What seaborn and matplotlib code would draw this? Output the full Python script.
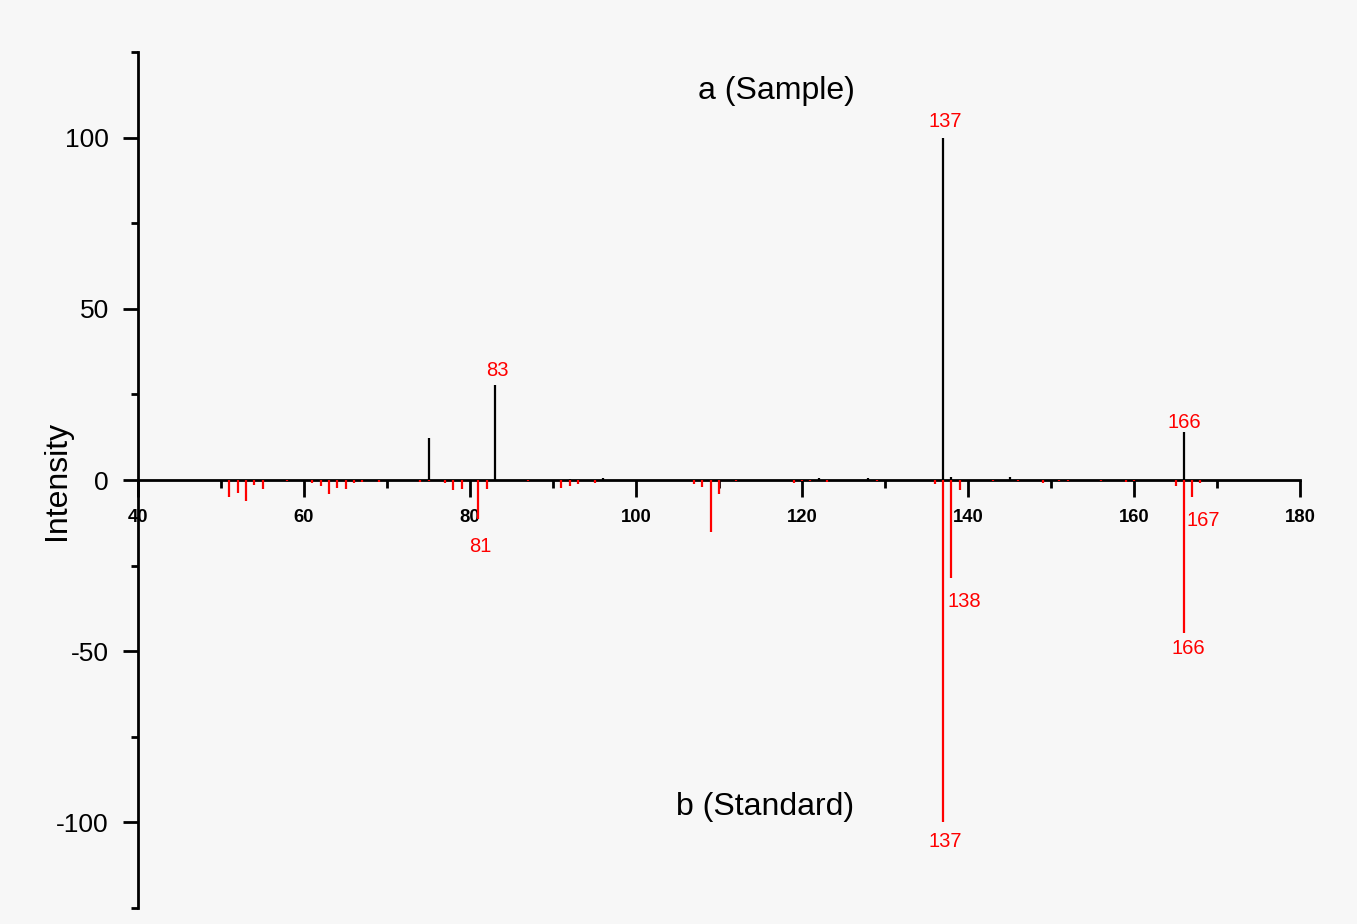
"""Mirror plot of sample vs standard mass spectrum."""
import matplotlib
matplotlib.use("Agg")
import matplotlib.pyplot as plt
import seaborn as sns

# sample spectrum (drawn upward, black)
sample_mz = [75, 83, 92, 96, 122, 128, 137, 138, 145, 166]
sample_int = [12.2, 27.7, 0.4, 0.6, 0.5, 0.5, 100, 1.0, 1.0, 13.9]

# standard spectrum (drawn downward, red)
standard_mz = [51, 52, 53, 54, 55, 58, 61, 62, 63, 64, 65, 66, 67, 69, 74, 75,
               77, 78, 79, 81, 82, 87, 91, 92, 93, 95, 107, 108, 109, 110, 112,
               119, 120, 121, 123, 129, 136, 137, 138, 139, 143, 146, 149, 151,
               152, 156, 159, 160, 165, 166, 167, 168]
standard_int = [4.9, 3.7, 6.2, 1.5, 2.6, 0.3, 0.8, 1.8, 4.1, 2.2, 2.6, 1.0, 0.7,
                0.7, 0.5, 0.4, 1.0, 3.0, 2.7, 11.5, 2.7, 0.4, 2.2, 1.8, 1.3, 0.8,
                1.3, 2.0, 15.2, 4.2, 0.4, 0.8, 0.4, 0.4, 0.5, 0.4, 1.2, 100, 28.7,
                3.0, 0.4, 0.4, 0.8, 0.4, 0.4, 0.4, 0.6, 0.4, 1.8, 44.6, 4.9, 0.8]

# peak labels: (text, x, y)
peak_labels = [("137", 137.2, 104.7), ("83", 83.25, 32.0), ("166", 166.1, 16.7),
               ("81", 81.2, -19.4), ("138", 139.5, -35.5), ("166", 166.5, -49.3),
               ("167", 168.3, -11.7), ("137", 137.2, -105.6)]

x_ticks = [40, 60, 80, 100, 120, 140, 160, 180]
y_ticks = [-100, -50, 0, 50, 100]

sns.set_style("ticks")
plt.rcParams["font.family"] = ["Liberation Sans", "DejaVu Sans"]
plt.rcParams.update({
    "axes.unicode_minus": False,
    "text.color": "black",
    "axes.labelcolor": "black",
    "axes.edgecolor": "black",
    "xtick.color": "black",
    "ytick.color": "black",
})

fig = plt.figure(figsize=(13.57, 9.24), dpi=100, facecolor="#f7f7f7")
ax = fig.add_axes([0.1017, 0.0173, 0.8563, 0.9264])
ax.set_facecolor("none")

ax.vlines(sample_mz, 0, sample_int, color="black", linewidth=1.6, zorder=3)
ax.vlines(standard_mz, 0, [-v for v in standard_int], color="red",
          linewidth=1.6, zorder=3)

for text, x, y in peak_labels:
    ax.text(x, y, text, color="red", fontsize=14.5, ha="center", va="center")

ax.text(116.9, 113.5, "a (Sample)", fontsize=23, ha="center", va="center")
ax.text(115.5, -95.5, "b (Standard)", fontsize=23, ha="center", va="center")

ax.set_xlim(40, 180)
ax.set_ylim(-125, 125)
ax.spines["top"].set_visible(False)
ax.spines["right"].set_visible(False)
ax.spines["bottom"].set_position(("data", 0))
for side in ("left", "bottom"):
    ax.spines[side].set_linewidth(2)

ax.set_xticks(x_ticks)
ax.set_xticks(range(50, 180, 20), minor=True)
ax.set_yticks(y_ticks)
ax.set_yticks([-125, -75, -25, 25, 75, 125], minor=True)
ax.tick_params(axis="x", which="major", direction="out", length=12, width=2,
               labelsize=13.3, pad=9)
ax.tick_params(axis="x", which="minor", direction="out", length=6, width=2)
ax.tick_params(axis="y", which="major", direction="out", length=11, width=2,
               labelsize=19, pad=10)
ax.tick_params(axis="y", which="minor", direction="out", length=5, width=2)
for lbl in ax.get_xticklabels():
    lbl.set_fontweight("bold")

ax.set_ylabel("Intensity", fontsize=23)
ax.yaxis.set_label_coords(-0.057, 0.5)

fig.savefig("out.png", dpi=100, facecolor=fig.get_facecolor())
